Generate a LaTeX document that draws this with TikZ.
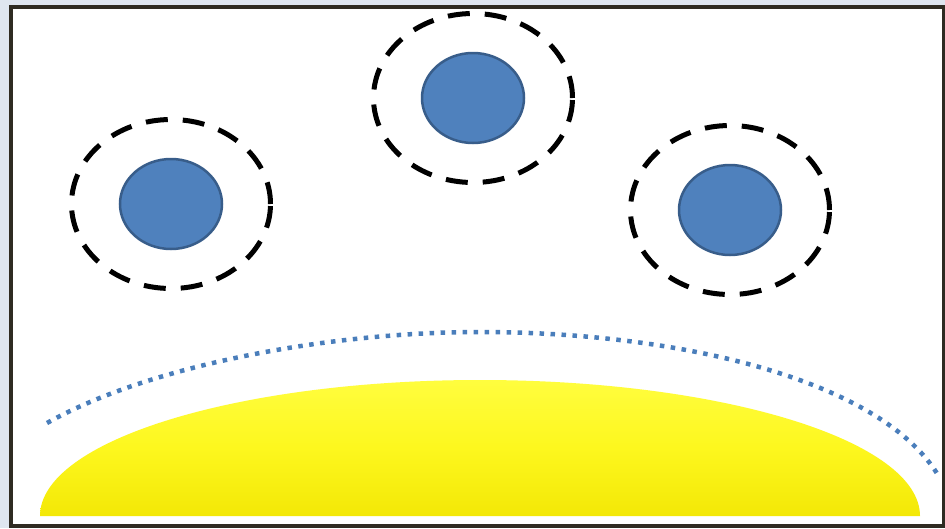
\documentclass[tikz,border=0pt]{standalone}
\usetikzlibrary{shapes.geometric}
\definecolor{ballblue}{RGB}{79,129,189}
\definecolor{ballrim}{RGB}{56,93,138}
\definecolor{frameink}{RGB}{47,43,34}
\definecolor{paneback}{RGB}{223,230,240}
\definecolor{dotblue}{RGB}{74,126,187}
\definecolor{sunlight}{RGB}{255,253,62}
\definecolor{sunmid}{RGB}{253,247,30}
\definecolor{sundeep}{RGB}{243,232,6}

\begin{document}
\begin{tikzpicture}[x=1pt,y=-1pt]
  \tikzstyle{halo}=[draw,ellipse,line width=5pt,dash pattern=on 22pt off 15pt,minimum width=199pt,minimum height=169pt,inner sep=0pt]
  \tikzstyle{ball}=[draw=ballrim,fill=ballblue,ellipse,line width=2.5pt,minimum width=102pt,minimum height=90pt,inner sep=0pt]
  \useasboundingbox (0,0) rectangle (945,528);
  \fill[paneback] (0,0) rectangle (945,528);
  \draw[frameink,fill=white,line width=4pt] (11,7) rectangle (944,526);
  % three particles, each with its dashed shell
  \node[halo] (haloL) at (171,204) {};
  \node[halo] (haloC) at (473,98) {};
  \node[halo] (haloR) at (730,210) {};
  \node[ball] (ballL) at (haloL) {};
  \node[ball] (ballC) at (haloC) {};
  \node[ball] (ballR) at (haloR) {};
  % dotted boundary
  \draw[dotblue,line width=4.5pt,dash pattern=on 4.5pt off 6.5pt] (47,423) .. controls (150,365) and (330,332) .. (480,332) .. controls (680,332) and (880,380) .. (938,475);
  % surface
  \shade[top color=sunlight,bottom color=sundeep,middle color=sunmid] (40,516) arc[start angle=180,end angle=360,x radius=440,y radius=136] -- cycle;
\end{tikzpicture}
\end{document}
